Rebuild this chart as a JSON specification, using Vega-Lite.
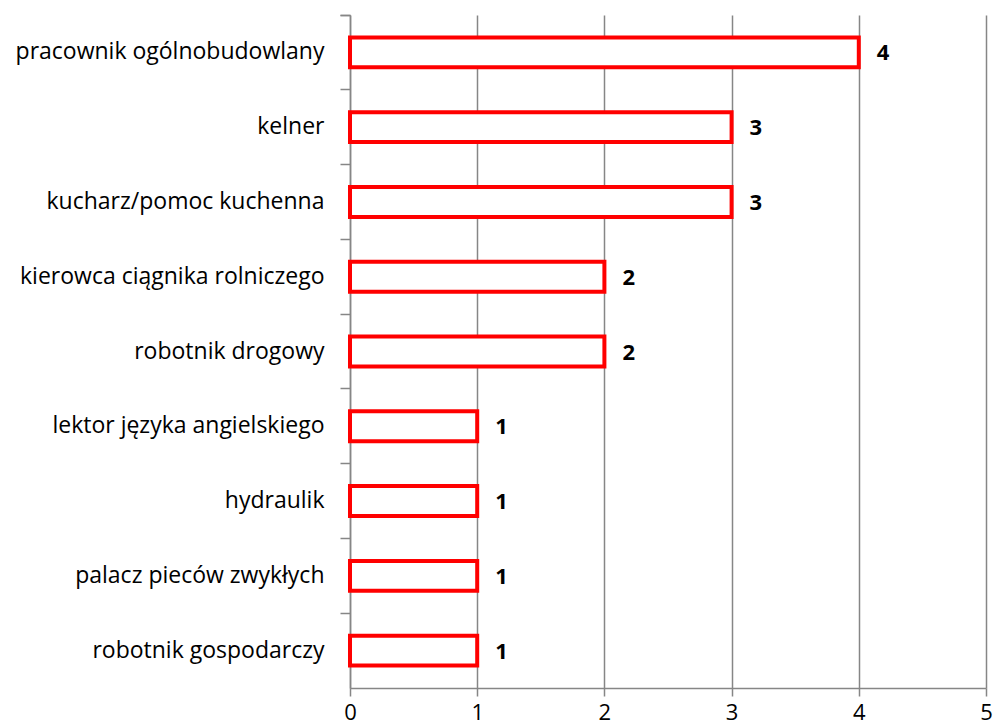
{
  "$schema": "https://vega.github.io/schema/vega-lite/v6.json",
  "autosize": "none",
  "width": 636,
  "height": 673,
  "padding": {"left": 350, "top": 15, "right": 11, "bottom": 39},
  "background": "white",
  "config": {
    "view": {"stroke": null},
    "font": "Open Sans"
  },
  "data": {
    "values": [
      {"job": "pracownik ogólnobudowlany", "n": 4},
      {"job": "kelner", "n": 3},
      {"job": "kucharz/pomoc kuchenna", "n": 3},
      {"job": "kierowca ciągnika rolniczego", "n": 2},
      {"job": "robotnik drogowy", "n": 2},
      {"job": "lektor języka angielskiego", "n": 1},
      {"job": "hydraulik", "n": 1},
      {"job": "palacz pieców zwykłych", "n": 1},
      {"job": "robotnik gospodarczy", "n": 1}
    ]
  },
  "encoding": {
    "y": {
      "field": "job",
      "type": "nominal",
      "sort": null,
      "scale": {"paddingInner": 0, "paddingOuter": 0},
      "axis": {
        "title": null,
        "bandPosition": 0,
        "tickExtra": true,
        "tickColor": "#868686",
        "domainColor": "#868686",
        "domainWidth": 1.5,
        "tickWidth": 1.5,
        "tickSize": 10,
        "labelPadding": 16,
        "labelFontSize": 23,
        "labelLimit": 0,
        "labelColor": "#000000",
        "labelFont": "Open Sans"
      }
    },
    "x": {
      "field": "n",
      "type": "quantitative",
      "scale": {"domain": [0, 5], "nice": false},
      "axis": {
        "title": null,
        "values": [0, 1, 2, 3, 4, 5],
        "grid": true,
        "gridColor": "#868686",
        "gridWidth": 1.5,
        "tickColor": "#868686",
        "domainColor": "#868686",
        "domainWidth": 1.5,
        "tickWidth": 1.5,
        "tickSize": 8,
        "labelPadding": 6,
        "labelFontSize": 22,
        "labelColor": "#000000",
        "labelFont": "Open Sans",
        "labelFlush": false
      }
    }
  },
  "layer": [
    {
      "mark": {"type": "bar", "fill": "white", "stroke": "#FF0000", "strokeWidth": 4, "height": {"band": 0.4}}
    },
    {
      "mark": {"type": "text", "align": "left", "baseline": "middle", "dx": 18, "dy": 1, "fontWeight": "bold", "fontSize": 22, "font": "Open Sans", "color": "black"},
      "encoding": {"text": {"field": "n", "type": "quantitative"}}
    }
  ]
}
